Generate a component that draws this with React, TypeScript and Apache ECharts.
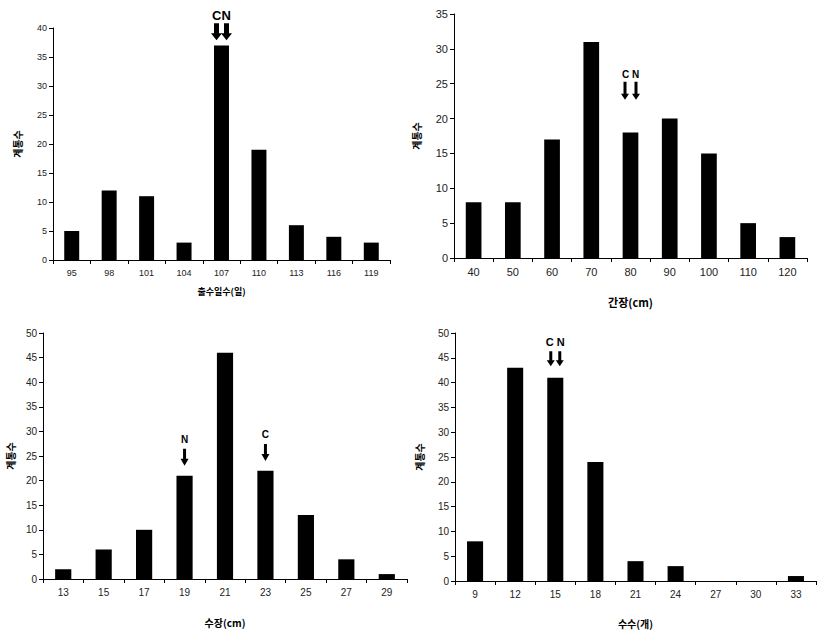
import React, { useEffect, useRef } from 'react';
import * as echarts from 'echarts';

// ---- data ----
const cat1 = ['95', '98', '101', '104', '107', '110', '113', '116', '119'];
const val1 = [5, 12, 11, 3, 37, 19, 6, 4, 3];
const cat2 = ['40', '50', '60', '70', '80', '90', '100', '110', '120'];
const val2 = [8, 8, 17, 31, 18, 20, 15, 5, 3];
const cat3 = ['13', '15', '17', '19', '21', '23', '25', '27', '29'];
const val3 = [2, 6, 10, 21, 46, 22, 13, 4, 1];
const cat4 = ['9', '12', '15', '18', '21', '24', '27', '30', '33'];
const val4 = [8, 43, 41, 24, 4, 3, 0, 0, 1];

const xName1 = '출수일수(일)';
const xName2 = '간장(cm)';
const xName3 = '수장(cm)';
const xName4 = '수수(개)';
const yName = '계통수';

const yMax = [40, 35, 50, 50];

// annotations: category, label, arrow tip value, number of arrows
const marks1 = [{ cat: '107', text: 'CN', tip: 37.9, n: 2 }];
const marks2 = [{ cat: '80', text: 'C N', tip: 22.7, n: 2 }];
const marks3 = [
  { cat: '19', text: 'N', tip: 23, n: 1 },
  { cat: '23', text: 'C', tip: 24, n: 1 },
];
const marks4 = [{ cat: '15', text: 'C N', tip: 43.3, n: 2 }];

const KR = '"Noto Sans CJK KR", "Noto Sans", sans-serif';
const NUM = '"Liberation Sans", Arial, sans-serif';

// layout per panel
const grids = [
  { left: 53, top: 28, width: 337, height: 232 },
  { left: 454, top: 14, width: 353, height: 244 },
  { left: 43, top: 333, width: 364, height: 246 },
  { left: 455, top: 333, width: 361, height: 248 },
];
const tickFont = [9, 11, 10, 10];
const xNameGap = [27, 38, 38, 37];
const xNameSize = [9, 11, 10, 10];
const yNameGap = [31, 33, 28, 31];
const arrowStyle = [
  { sep: 10, sw: 5, hw: 11, hh: 7, len: 17, font: 13, gap: 8 },
  { sep: 11, sw: 3, hw: 8, hh: 6, len: 18, font: 10, gap: 7 },
  { sep: 0, sw: 3, hw: 8, hh: 7, len: 17, font: 10, gap: 9 },
  { sep: 9, sw: 3, hw: 8, hh: 6, len: 15, font: 11, gap: 9 },
];

const cats = [cat1, cat2, cat3, cat4];
const vals = [val1, val2, val3, val4];
const xNames = [xName1, xName2, xName3, xName4];
const marks = [marks1, marks2, marks3, marks4];

export default function App() {
  const ref = useRef<HTMLDivElement>(null);
  useEffect(() => {
    if (!ref.current) return;
    const chart = echarts.init(ref.current, undefined, { renderer: 'svg' });
    const axisLine = { show: true, lineStyle: { color: '#000', width: 1 } };
    const option: any = {
      animation: false,
      backgroundColor: '#fff',
      grid: grids.map((g) => ({ ...g, containLabel: false })),
      xAxis: cats.map((c, i) => ({
        type: 'category',
        gridIndex: i,
        data: c,
        name: xNames[i],
        nameLocation: 'middle',
        nameGap: xNameGap[i],
        nameTextStyle: { fontFamily: KR, fontWeight: 'bold', fontSize: xNameSize[i], color: '#000' },
        axisLine,
        axisTick: { show: true, alignWithLabel: false, length: 4, lineStyle: { color: '#000' } },
        axisLabel: { fontFamily: NUM, fontSize: tickFont[i], color: '#222', margin: 8 },
        splitLine: { show: false },
      })),
      yAxis: cats.map((_, i) => ({
        type: 'value',
        gridIndex: i,
        min: 0,
        max: yMax[i],
        interval: 5,
        name: yName,
        nameLocation: 'middle',
        nameGap: yNameGap[i],
        nameRotate: 90,
        nameTextStyle: { fontFamily: KR, fontWeight: 'bold', fontSize: 10, color: '#000' },
        axisLine,
        axisTick: { show: true, length: 4, lineStyle: { color: '#000' } },
        axisLabel: { fontFamily: NUM, fontSize: tickFont[i], color: '#222', margin: 6 },
        splitLine: { show: false },
      })),
      series: vals.map((v, i) => ({
        type: 'bar',
        xAxisIndex: i,
        yAxisIndex: i,
        data: v,
        barWidth: '40%',
        itemStyle: { color: '#000' },
      })),
    };
    chart.setOption(option);

    const graphic: any[] = [];
    marks.forEach((list, i) => {
      const st = arrowStyle[i];
      list.forEach((m) => {
        const idx = cats[i].indexOf(m.cat);
        const p = chart.convertToPixel({ xAxisIndex: i, yAxisIndex: i } as any, [idx, m.tip]) as number[];
        const cx = p[0];
        const tipY = p[1];
        const offs = m.n === 2 ? [-st.sep / 2, st.sep / 2] : [0];
        offs.forEach((o) => {
          const x = cx + o;
          const y = tipY;
          graphic.push({
            type: 'polygon',
            shape: {
              points: [
                [x - st.sw / 2, y - st.len],
                [x + st.sw / 2, y - st.len],
                [x + st.sw / 2, y - st.hh],
                [x + st.hw / 2, y - st.hh],
                [x, y],
                [x - st.hw / 2, y - st.hh],
                [x - st.sw / 2, y - st.hh],
              ],
            },
            style: { fill: '#000' },
          });
        });
        graphic.push({
          type: 'text',
          style: {
            text: m.text,
            x: cx,
            y: tipY - st.len - st.gap,
            align: 'center',
            verticalAlign: 'middle',
            fontFamily: NUM,
            fontWeight: 'bold',
            fontSize: st.font,
            fill: '#000',
          },
        });
      });
    });
    chart.setOption({ graphic });

    return () => chart.dispose();
  }, []);
  return (
    <div
      ref={ref}
      style={{ position: 'fixed', left: 0, top: 0, width: 834, height: 632, background: '#fff' }}
    />
  );
}
